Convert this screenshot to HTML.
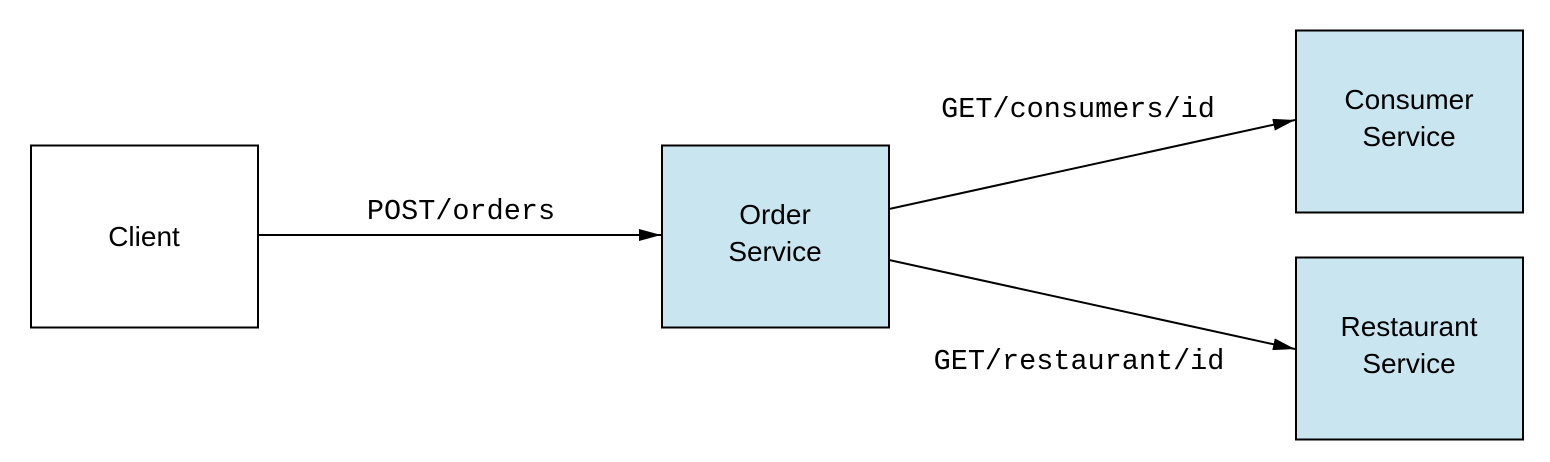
<!DOCTYPE html>
<html><head><style>
html,body{margin:0;padding:0;background:#fff;}
svg{display:block}
.s{font-family:"Liberation Sans",sans-serif;font-size:28px;fill:#000}
.m{font-family:"Liberation Mono",monospace;font-size:28.5px;fill:#000}
</style></head><body>
<svg width="1550" height="462" viewBox="0 0 1550 462" xmlns="http://www.w3.org/2000/svg">
<defs><marker id="a" markerWidth="22" markerHeight="12" refX="22" refY="6" orient="auto" markerUnits="userSpaceOnUse"><path d="M0,0 L22,6 L0,12 z" fill="#000"/></marker></defs>
<rect x="31" y="145.5" width="227" height="182" fill="#fff" stroke="#000" stroke-width="2"/>
<rect x="662" y="145.5" width="227" height="182" fill="#c9e6f0" stroke="#000" stroke-width="2"/>
<rect x="1296" y="30.5" width="227" height="182" fill="#c9e6f0" stroke="#000" stroke-width="2"/>
<rect x="1296" y="257.5" width="227" height="182" fill="#c9e6f0" stroke="#000" stroke-width="2"/>
<text class="s" x="144" y="246" text-anchor="middle">Client</text>
<text class="s" x="775" y="224" text-anchor="middle">Order</text>
<text class="s" x="775" y="261" text-anchor="middle">Service</text>
<text class="s" x="1409" y="109" text-anchor="middle">Consumer</text>
<text class="s" x="1409" y="146" text-anchor="middle">Service</text>
<text class="s" x="1409" y="336" text-anchor="middle">Restaurant</text>
<text class="s" x="1409" y="373" text-anchor="middle">Service</text>
<line x1="258" y1="235" x2="661" y2="235" stroke="#000" stroke-width="2" marker-end="url(#a)"/>
<line x1="889" y1="209" x2="1295" y2="120" stroke="#000" stroke-width="2" marker-end="url(#a)"/>
<line x1="889" y1="260" x2="1295" y2="349" stroke="#000" stroke-width="2" marker-end="url(#a)"/>
<text class="m" x="461" y="219" text-anchor="middle">POST/orders</text>
<text class="m" x="1078" y="117" text-anchor="middle">GET/consumers/id</text>
<text class="m" x="1079" y="369" text-anchor="middle">GET/restaurant/id</text>
</svg>
</body></html>
